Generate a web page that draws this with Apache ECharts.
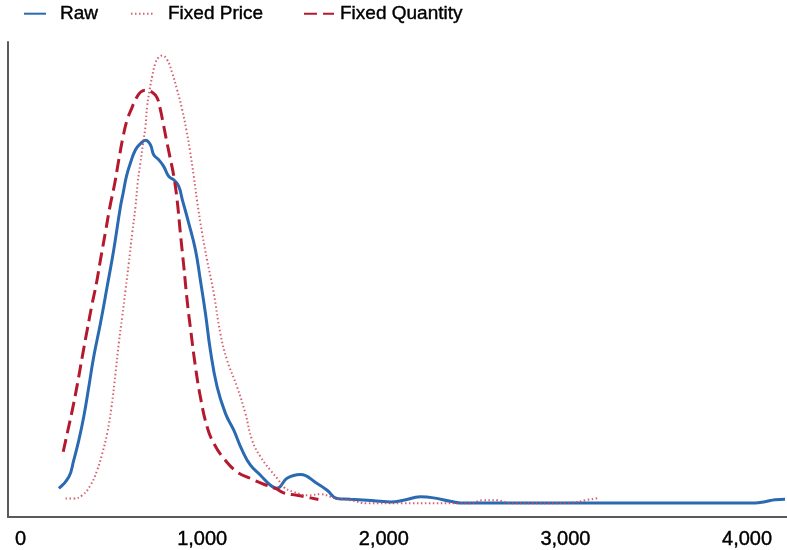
<!DOCTYPE html>
<html>
<head>
<meta charset="utf-8">
<script src="https://cdn.jsdelivr.net/npm/echarts/dist/echarts.min.js"></script>
<style>
html,body{margin:0;padding:0;background:#fff;}
#chart{width:787px;height:550px;}
</style>
</head>
<body>
<div id="chart"></div>
<script>
// Density estimates (y in units of 1e-4)
const rawX = [211,266,293,321,348,376,403,440,477,513,550,565,583,605,633,660,688,715,733,761,788,816,843,871,891,926,963,990,1018,1045,1082,1128,1174,1220,1266,1321,1376,1412,1467,1541,1633,1688,1743,1816,1908,2036,2109,2201,2274,2366,2421,2600,3000,3500,4044,4099,4154,4209];
const rawY = [0.74,1.32,2.15,3.15,4.32,5.82,7.32,8.99,10.82,12.65,14.8,15.49,16.32,16.99,17.65,17.95,18.12,17.9,17.4,17.15,16.82,16.32,16.15,15.82,15.15,13.99,12.65,11.15,9.49,7.65,5.82,4.49,3.65,2.65,1.9,1.4,0.9,0.75,1.25,1.44,0.99,0.65,0.24,0.2,0.15,0.07,0.15,0.32,0.27,0.1,0.02,0.01,0.01,0.01,0.01,0.08,0.18,0.2];

const fpX = [248,293,340,385,422,450,477,501,523,541,560,578,596,615,633,645,660,675,688,697,711,725,743,759,780,807,835,862,890,913,932,954,972,1000,1027,1064,1100,1137,1192,1238,1275,1321,1376,1421,1447,1502,1585,1651,1733,1816,1908,2091,2476,2548,2625,2696,2861,3054,3109,3175];
const fpY = [0.24,0.24,0.4,0.9,1.65,2.49,3.49,4.82,6.49,7.99,9.32,10.65,11.99,13.49,14.82,15.99,16.99,17.99,18.82,19.82,20.65,21.32,21.99,22.25,22.35,22.15,21.49,20.65,19.65,18.65,17.65,16.32,15.1,13.49,12.15,10.49,8.49,7.15,5.82,4.49,3.15,2.32,1.65,1.15,0.82,0.57,0.4,0.45,0.25,0.15,0.0,0.0,0.0,0.15,0.15,0.0,0.0,0.05,0.15,0.25];

const fqX = [235,257,285,312,340,367,395,418,440,468,491,519,541,565,587,609,633,660,688,725,752,770,785,803,822,844,862,880,899,917,939,963,990,1027,1064,1119,1192,1266,1339,1403,1449,1522,1586,1640];
const fqY = [2.57,3.49,4.65,5.9,7.32,8.65,9.99,10.99,12.15,13.57,14.75,15.99,17.15,18.32,19.15,19.65,20.15,20.52,20.62,20.52,20.24,19.65,18.99,18.15,17.32,16.32,15.15,13.49,11.82,10.15,8.49,6.82,5.32,3.82,2.99,2.24,1.57,1.24,0.95,0.74,0.52,0.4,0.29,0.19];

const xTicks = [0,1000,2000,3000,4000];
const seriesNames = ['Raw','Fixed Price','Fixed Quantity'];

const zip = (xs, ys) => xs.map((x, i) => [x, ys[i]]);
const font = 'Liberation Sans, Arial, sans-serif';
const legendText = (pad) => ({fontSize:19, color:'#000', fontFamily:font, padding:[0,0,0,pad],
  textBorderColor:'#000', textBorderWidth:0.4});
const legendBase = {top:4, itemHeight:20, padding:0, selectedMode:false, itemStyle:{opacity:0}};

const chart = echarts.init(document.getElementById('chart'), null, {renderer:'canvas'});
chart.setOption({
  backgroundColor:'#fff',
  animation:false,
  legend:[
    Object.assign({data:[seriesNames[0]], left:23, itemWidth:22, textStyle:legendText(9)}, legendBase),
    Object.assign({data:[seriesNames[1]], left:130, itemWidth:23, textStyle:legendText(9)}, legendBase),
    Object.assign({data:[seriesNames[2]], left:303, itemWidth:30, textStyle:legendText(1)}, legendBase)
  ],
  grid:{left:8, right:0, top:42, bottom:33, containLabel:false},
  xAxis:{
    type:'value', min:-69, max:4220,
    axisLine:{show:true, onZero:false, lineStyle:{color:'#5a5a5a', width:2}},
    axisTick:{show:false},
    splitLine:{show:false},
    axisLabel:{
      customValues:xTicks, margin:12, fontSize:20, color:'#000', fontFamily:font,
      textBorderColor:'#000', textBorderWidth:0.4,
      formatter:(v)=>Number(v).toLocaleString('en-US')
    }
  },
  yAxis:{
    type:'value', min:-0.685, max:23.03,
    axisLine:{show:true, onZero:false, lineStyle:{color:'#5a5a5a', width:2}},
    axisTick:{show:false}, axisLabel:{show:false}, splitLine:{show:false}
  },
  series:[
    {name:seriesNames[0], type:'line', data:zip(rawX, rawY), smooth:0.45, symbol:'none',
     lineStyle:{color:'#2a6ab2', width:3}, itemStyle:{color:'#2a6ab2'}},
    {name:seriesNames[2], type:'line', data:zip(fqX, fqY), smooth:0.45, symbol:'none',
     lineStyle:{color:'#b5192e', width:3, type:[13,6]}, itemStyle:{color:'#b5192e'}},
    {name:seriesNames[1], type:'line', data:zip(fpX, fpY), smooth:0.45, symbol:'none',
     lineStyle:{color:'#cc4859', width:2, type:[1.5,2.5], opacity:0.85}, itemStyle:{color:'#cc4859'}}
  ]
});
</script>
</body>
</html>
